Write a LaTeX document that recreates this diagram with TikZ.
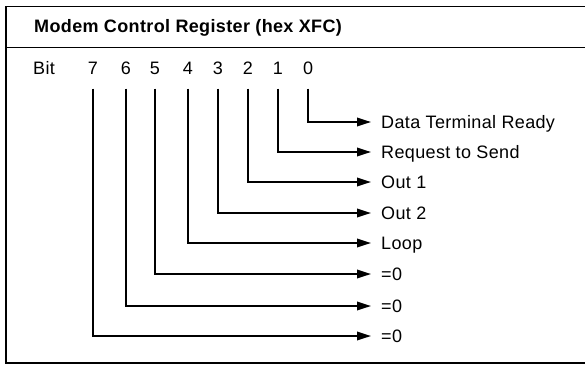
\documentclass[tikz,border=0pt]{standalone}
\usepackage{fontspec}
\setmainfont{Liberation Sans}[LetterSpace=2]
\usetikzlibrary{arrows.meta}
\begin{document}
\begin{tikzpicture}[x=1pt,y=-1pt,
  frame/.style={line width=1.8pt},
  conn/.style={line width=1.8pt,-{Triangle[length=14pt,width=8.5pt]},shorten <=14pt,shorten >=10pt},
  lbl/.style={font=\fontsize{18}{21}\selectfont,inner sep=0pt,text height=12.5pt,text depth=0pt,anchor=west},
  dig/.style={font=\fontsize{18}{21}\selectfont,inner sep=0pt,text height=12.5pt,text depth=0pt,anchor=south},
  ttl/.style={font=\fontsize{18}{21}\selectfont\bfseries,inner sep=0pt,anchor=base west}]
\useasboundingbox (0,0) rectangle (585,364);
% frame
\draw[frame] (590,6.5) -- (6,6.5) -- (6,363) -- (590,363);
\draw[frame] (6,47.5) -- (590,47.5);
\node[ttl] (title) at (34,32.5) {Modem Control Register (hex XFC)};
% bit row
\node[dig,anchor=south west] (bit) at (33,74.5) {Bit};
\node[dig] (d7) at (93,74.5) {7};
\node[dig] (d6) at (126,74.5) {6};
\node[dig] (d5) at (155,74.5) {5};
\node[dig] (d4) at (188,74.5) {4};
\node[dig] (d3) at (218,74.5) {3};
\node[dig] (d2) at (248,74.5) {2};
\node[dig] (d1) at (278,74.5) {1};
\node[dig] (d0) at (308,74.5) {0};
% labels
\node[lbl] (l0) at (381,122) {Data Terminal Ready};
\node[lbl] (l1) at (381,152) {Request to Send};
\node[lbl] (l2) at (381,182) {Out 1};
\node[lbl] (l3) at (381,213) {Out 2};
\node[lbl] (l4) at (381,243) {Loop};
\node[lbl] (l5) at (381,274) {=0};
\node[lbl] (l6) at (381,306) {=0};
\node[lbl] (l7) at (381,336) {=0};
% connectors
\foreach \i in {0,...,7}{
  \draw[conn] (d\i.south) |- (l\i.west);
}
\end{tikzpicture}
\end{document}
